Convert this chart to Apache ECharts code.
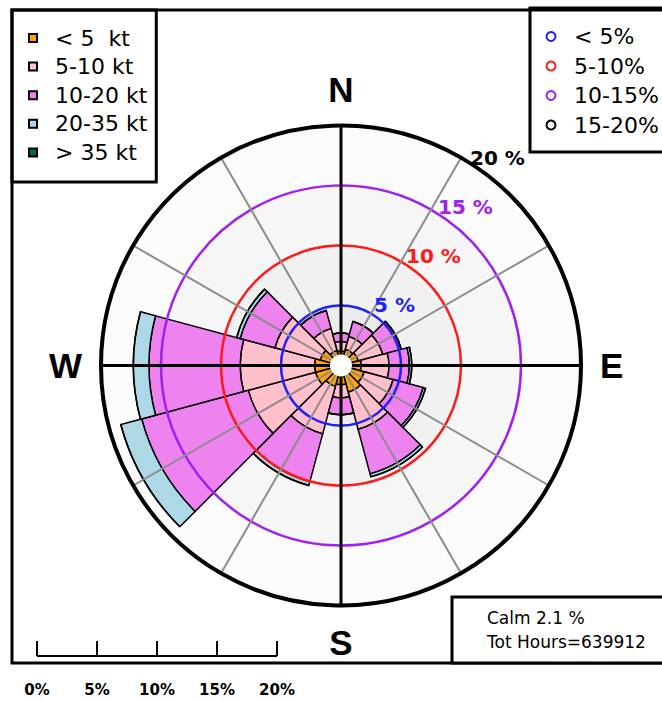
<!DOCTYPE html>
<html>
<head>
<meta charset="utf-8">
<script src="https://cdn.jsdelivr.net/npm/echarts@6/dist/echarts.min.js"></script>
<style>
  html, body { margin: 0; padding: 0; background: #ffffff; }
  #chart { width: 662px; height: 702px; }
</style>
</head>
<body>
<div id="chart"></div>
<script>
// Wind directions (12 sectors of 30 degrees, clockwise from north)
const directions = ['N', '30°', '60°', 'E', '120°', '150°', 'S', '210°', '240°', 'W', '300°', '330°'];

// Wind speed classes and their colours
const speedClasses = ['< 5  kt', '5-10 kt', '10-20 kt', '20-35 kt', '> 35 kt'];
const speedColors = ['#FFA500', '#FFC0CB', '#EE82EE', '#ADD8E6', '#006B38'];

// Frequency (% of hours) per direction for each speed class
const freqBelow5 = [1.2, 1.4, 1.5, 1.7, 2.0, 2.3, 1.6, 1.8, 2.2, 2.2, 1.8, 1.3];
const freq5to10 = [0.8, 1.1, 2.1, 2.3, 2.5, 3.2, 1.1, 4.1, 5.8, 6.2, 3.9, 1.9];
const freq10to20 = [0.7, 1.3, 1.6, 1.7, 2.6, 3.85, 1.4, 4.1, 9.2, 7.6, 3.0, 1.55];
const freq20to35 = [0, 0, 0, 0.2, 0.2, 0.25, 0, 0.35, 1.8, 1.3, 0.3, 0];
const freqAbove35 = [0, 0, 0, 0, 0, 0, 0, 0, 0, 0, 0, 0];
const speedSeries = [freqBelow5, freq5to10, freq10to20, freq20to35, freqAbove35];

// Reference rings
const ringValues = [5, 10, 15, 20];
const ringLabels = ['5 %', '10 %', '15 %', '20 %'];
const ringColors = ['#1f1fff', '#ff1a1a', '#a020f0', '#000000'];
const ringLegend = ['< 5%', '5-10%', '10-15%', '15-20%'];
const ringFills = ['#ececec', '#f1f1f1', '#f6f6f6', '#fbfbfb'];

// Compass points and scale bar
const compassLabels = ['N', 'E', 'S', 'W'];
const scaleValues = [0, 5, 10, 15, 20];
const scaleLabels = ['0%', '5%', '10%', '15%', '20%'];

const calmPercent = 2.1;
const totalHours = 639912;

// Layout
const CX = 341, CY = 365.5, R = 240, MAXPCT = 20;
const PX_PER_PCT = R / MAXPCT;
const FONT = 'DejaVu Sans';

const chart = echarts.init(document.getElementById('chart'), null, { renderer: 'svg' });

const polarBox = { center: [CX, CY], radius: [0, R] };

const barSeries = speedClasses.map((name, i) => ({
  name: name,
  type: 'bar',
  coordinateSystem: 'polar',
  polarIndex: 0,
  stack: 'rose',
  barCategoryGap: '0%',
  data: speedSeries[i],
  itemStyle: { color: speedColors[i], borderColor: '#000', borderWidth: 1.5 },
  emphasis: { disabled: true },
  z: 2
}));

// Empty series that only feed the ring legend
const ringSeries = ringLegend.map((name, i) => ({
  name: name,
  type: 'line',
  coordinateSystem: 'polar',
  polarIndex: 0,
  data: [],
  itemStyle: { color: ringColors[i] }
}));

const option = {
  animation: false,
  backgroundColor: '#ffffff',
  polar: [polarBox, polarBox, polarBox],
  angleAxis: [
    {
      polarIndex: 0, type: 'category', data: directions, startAngle: 105, boundaryGap: true,
      axisLine: { show: false }, axisTick: { show: false }, axisLabel: { show: false },
      splitLine: { show: false }, z: 0
    },
    {
      polarIndex: 1, type: 'value', min: 0, max: 360, interval: 30, startAngle: 60,
      axisLine: { show: true, lineStyle: { color: '#000', width: 4 } },
      axisTick: { show: false }, axisLabel: { show: false },
      splitLine: { show: true, lineStyle: { color: '#8c8c8c', width: 2 } }, z: 5
    },
    {
      polarIndex: 2, type: 'category', data: compassLabels, boundaryGap: false, startAngle: 90,
      axisLine: { show: false }, axisTick: { show: false },
      axisLabel: { show: true, margin: 19, fontFamily: 'Liberation Sans', fontWeight: 'bold', fontSize: 35, color: '#000' },
      splitLine: { show: true, lineStyle: { color: '#000', width: 3 } }, z: 6
    }
  ],
  radiusAxis: [
    {
      polarIndex: 0, type: 'value', min: 0, max: MAXPCT, interval: 5,
      axisLine: { show: false }, axisTick: { show: false }, axisLabel: { show: false },
      splitLine: { show: false },
      splitArea: { show: true, areaStyle: { color: ringFills } }, z: 0
    },
    {
      polarIndex: 1, type: 'value', min: 0, max: MAXPCT, interval: 5,
      axisLine: { show: false }, axisTick: { show: false }, axisLabel: { show: false },
      splitLine: { show: true, lineStyle: { color: ['rgba(0,0,0,0)'].concat(ringColors), width: 2.5 } },
      z: 5
    },
    { polarIndex: 2, type: 'value', min: 0, max: MAXPCT, show: false }
  ],
  legend: [
    {
      data: speedClasses, orient: 'vertical', left: 12, top: 10,
      icon: 'rect', itemWidth: 8, itemHeight: 8, itemGap: 4.6,
      padding: [16, 9, 17.6, 16],
      borderColor: '#000', borderWidth: 3, selectedMode: false,
      textStyle: { fontFamily: FONT, fontSize: 22, color: '#000', lineHeight: 24, padding: [0, 0, 0, 13] }
    },
    {
      data: ringLegend.map((name, i) => ({
        name: name, icon: 'circle',
        itemStyle: { color: '#ffffff', borderColor: ringColors[i], borderWidth: 2 }
      })),
      orient: 'vertical', left: 530, top: 8,
      itemWidth: 9, itemHeight: 9, itemGap: 5.5,
      padding: [16.5, 40, 15, 15.5],
      borderColor: '#000', borderWidth: 3, selectedMode: false,
      textStyle: { fontFamily: FONT, fontSize: 22, color: '#000', lineHeight: 24, padding: [0, 0, 0, 13.5] }
    }
  ],
  series: barSeries.concat(ringSeries)
};

chart.setOption(option);

// Ring percentage labels sit just right of the 30° spoke, positioned through the polar scale
const ringTextGraphics = ringValues.map((v, i) => {
  const p = chart.convertToPixel({ polarIndex: 1 }, [v, 0]);
  return {
    type: 'text', z: 60, x: p[0] + 3 + i * 2, y: p[1] - 9 + i * 3,
    style: { text: ringLabels[i], fill: ringColors[i], font: 'bold 20px "' + FONT + '"', align: 'left', verticalAlign: 'middle' }
  };
});

// Distance scale bar drawn with the same pixels-per-percent as the rose
const scaleX0 = 37, scaleY = 656, scaleTickH = 15;
const scaleGraphics = [];
scaleValues.forEach((v, i) => {
  const x = scaleX0 + v * PX_PER_PCT;
  scaleGraphics.push({
    type: 'line', z: 50,
    shape: { x1: x, y1: scaleY, x2: x, y2: scaleY - scaleTickH },
    style: { stroke: '#000', lineWidth: 2 }
  });
  scaleGraphics.push({
    type: 'text', z: 50, x: x, y: 690,
    style: { text: scaleLabels[i], fill: '#000', font: 'bold 15px "' + FONT + '"', align: 'center', verticalAlign: 'middle' }
  });
});
scaleGraphics.push({
  type: 'line', z: 50,
  shape: { x1: scaleX0, y1: scaleY, x2: scaleX0 + scaleValues[scaleValues.length - 1] * PX_PER_PCT, y2: scaleY },
  style: { stroke: '#000', lineWidth: 2 }
});

chart.setOption({
  graphic: [
    {
      type: 'rect', z: 40,
      shape: { x: 12, y: 10, width: 700, height: 653 },
      style: { fill: 'none', stroke: '#000', lineWidth: 3 }
    },
    {
      type: 'rect', z: 40,
      shape: { x: 452, y: 597, width: 300, height: 66 },
      style: { fill: '#ffffff', stroke: '#000', lineWidth: 3 }
    },
    {
      type: 'text', z: 50, x: 487, y: 618,
      style: { text: 'Calm ' + calmPercent + ' %', fill: '#000', font: '17px "' + FONT + '"', verticalAlign: 'middle' }
    },
    {
      type: 'text', z: 50, x: 487, y: 642,
      style: { text: 'Tot Hours=' + totalHours, fill: '#000', font: '17px "' + FONT + '"', verticalAlign: 'middle' }
    },
    {
      type: 'circle', z: 100,
      shape: { cx: CX, cy: CY, r: 11 },
      style: { fill: '#ffffff' }
    }
  ].concat(ringTextGraphics, scaleGraphics)
});
</script>
</body>
</html>
